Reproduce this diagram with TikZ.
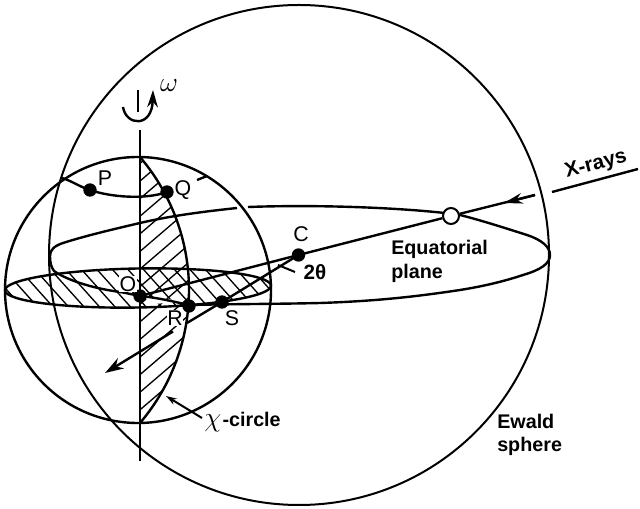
\documentclass[tikz,border=0pt]{standalone}
\usepackage{fontspec}
\setmainfont{Liberation Sans}
\usetikzlibrary{arrows.meta}
\tikzset{
  thin line/.style={line width=1.5pt,black},
  main line/.style={line width=1.8pt,black},
  hatch/.style={line width=1pt,black},
  pt/.style={circle,fill=black,inner sep=0pt,minimum size=10pt},
  label text/.style={font=\fontsize{16}{17}\selectfont,inner sep=0.5pt},
  bold text/.style={font=\fontsize{14.8}{15}\selectfont\bfseries,inner sep=0pt,align=left},
  beam tip/.style={-{Stealth[length=14pt,width=9pt]}},
}
\begin{document}
\begin{tikzpicture}[x=0.75pt,y=-0.75pt]
\useasboundingbox (0,0) rectangle (640,509);
% coordinates
\coordinate (Oc) at (138,290);
\coordinate (Cc) at (299,255);
\coordinate (axT) at (140,130);
\coordinate (axB) at (140,461);
\coordinate (tip) at (105,373);
\coordinate (xa) at (638,169);
\coordinate (xb) at (552,192);
\coordinate (xc) at (535,195);
% hatching: equatorial disc of the small sphere
\begin{scope}
  \clip[rotate around={1:(138,288)}] (138,288) ellipse [x radius=133,y radius=19.5];
  \foreach \k in {0,...,19}
    \draw[hatch] ({-20+15.5*\k},260) -- ++(52,58);
\end{scope}
% hatching: chi-circle lens
\begin{scope}
  \clip plot[domain=-40.45:40.45,samples=30] ({-16+205*cos(\x)},{290+205*sin(\x)}) -- cycle;
  \foreach \k in {0,...,15}
    \draw[hatch] (130,{172+17.6*\k}) -- ++(70,-60);
\end{scope}
% white gap under the front of the plane, O to R
\fill[white] (146,298) .. controls (160,297) and (172,299) .. (184,303) -- (170,303) -- (148,304) -- cycle;
% spheres
\draw[thin line] (Cc) circle [radius=250];
\draw[main line] (Oc) circle [radius=133];
% chi-circle
\draw[main line] plot[domain=-40.45:40.45,samples=40,smooth] ({-16+205*cos(\x)},{290+205*sin(\x)});
% axis
\draw[main line] (axT) -- (axB);
% small equatorial ellipse
\draw[main line,rotate around={1:(138,288)}] (138,288) ellipse [x radius=133,y radius=19.5];
% equatorial plane, with gap at the small sphere
\draw[main line] (237,208) .. controls (200,212) and (170,216) .. (140,223)
   .. controls (110,230) and (85,236) .. (63,243)
   .. controls (54,246) and (50,250) .. (50,256)
   .. controls (50,262) and (51,267) .. (54,271)
   .. controls (65,279) and (90,288) .. (120,292)
   .. controls (127,293) and (134,295) .. (140,296)
   .. controls (160,298) and (175,302) .. (189,305)
   .. controls (230,304) and (280,304) .. (320,303)
   .. controls (380,301) and (420,296) .. (460,290)
   .. controls (485,286) and (505,281) .. (523,275)
   .. controls (540,270) and (550,264) .. (550,255)
   .. controls (550,247) and (542,240) .. (527,235)
   .. controls (505,228) and (480,220) .. (460,215)
   .. controls (420,209) and (330,204) .. (248,207);
% parallel through P and Q
\node[pt] (P) at (90,190) {};
\node[pt] (Q) at (167,192) {};
\coordinate (pa) at (62,178);
\coordinate (qa) at (197,180);
\coordinate (qb) at (207,176);
\draw[main line] (pa) .. controls (72,181) and (80,187) .. (P.center)
  .. controls (110,197) and (145,200) .. (Q.center);
\draw[main line] (qa) -- (qb);
% beams
\node[pt] (O) at (140,296) {};
\node[pt] (R) at (189,306) {};
\node[pt] (S) at (222,302) {};
\node[pt] (C) at (298.5,255) {};
\node[circle,draw=black,fill=white,line width=1.5pt,inner sep=0pt,minimum size=12pt] (W) at (451,216) {};
\draw[main line] (xa) -- (xb);
\draw[main line] (xc) -- (W);
\draw[main line] (W) -- (C.center) -- (O.center);
\draw[main line,-{Stealth[length=14pt,width=8pt]}] (xc) -- (504,203);
\draw[main line] (C.center) -- (S.center) -- (187,323);
\draw[main line,beam tip] (173,331.5) -- (tip);
% 2 theta tick
\coordinate (ta) at (278,265);
\coordinate (tb) at (295,272);
\draw[thin line] (ta) -- (tb);
% omega
\coordinate (wa) at (138,90);
\coordinate (wb) at (138,112);
\coordinate (wc) at (123,107);
\draw[main line] (wa) -- (wb);
\draw[main line,-{Stealth[length=13pt,width=8pt]}] (wc) .. controls (126,126) and (152,128) .. (153,90);
% chi arrow
\coordinate (ca) at (202,418);
\coordinate (cb) at (166,396);
\draw[thin line,-{Stealth[length=8pt,width=5pt]}] (ca) -- (cb);
% labels
\node[font=\fontsize{22}{22}\selectfont,inner sep=0pt] (lw) at (169,86) {$\omega$};
\node[label text] (lP) at (105,178) {P};
\node[label text] (lQ) at (183,190) {Q};
\node[label text,fill=white] (lO) at (128,284) {O};
\node[label text,fill=white] (lR) at (175,318) {R};
\node[label text] (lS) at (232,318) {S};
\node[label text] (lC) at (301,234) {C};
\node[label text,font=\fontsize{15.5}{16}\selectfont\bfseries] (lt) at (315,272) {2θ};
\node[bold text,anchor=west] (l1) at (391,249.5) {Equatorial};
\node[bold text,anchor=west] (l2) at (391,273) {plane};
\node[bold text,rotate=15,font=\fontsize{15.5}{16}\selectfont\bfseries] (lx) at (596,165) {X-rays};
\node[bold text,anchor=west] (l3) at (497,421) {Ewald};
\node[bold text,anchor=west] (l4) at (497,446) {sphere};
\node[anchor=west,inner sep=0pt] (lc) at (204,422) {\fontsize{22}{22}\selectfont$\chi$\hspace{1pt}\fontsize{14.8}{15}\selectfont\bfseries -circle};
\end{tikzpicture}
\end{document}
